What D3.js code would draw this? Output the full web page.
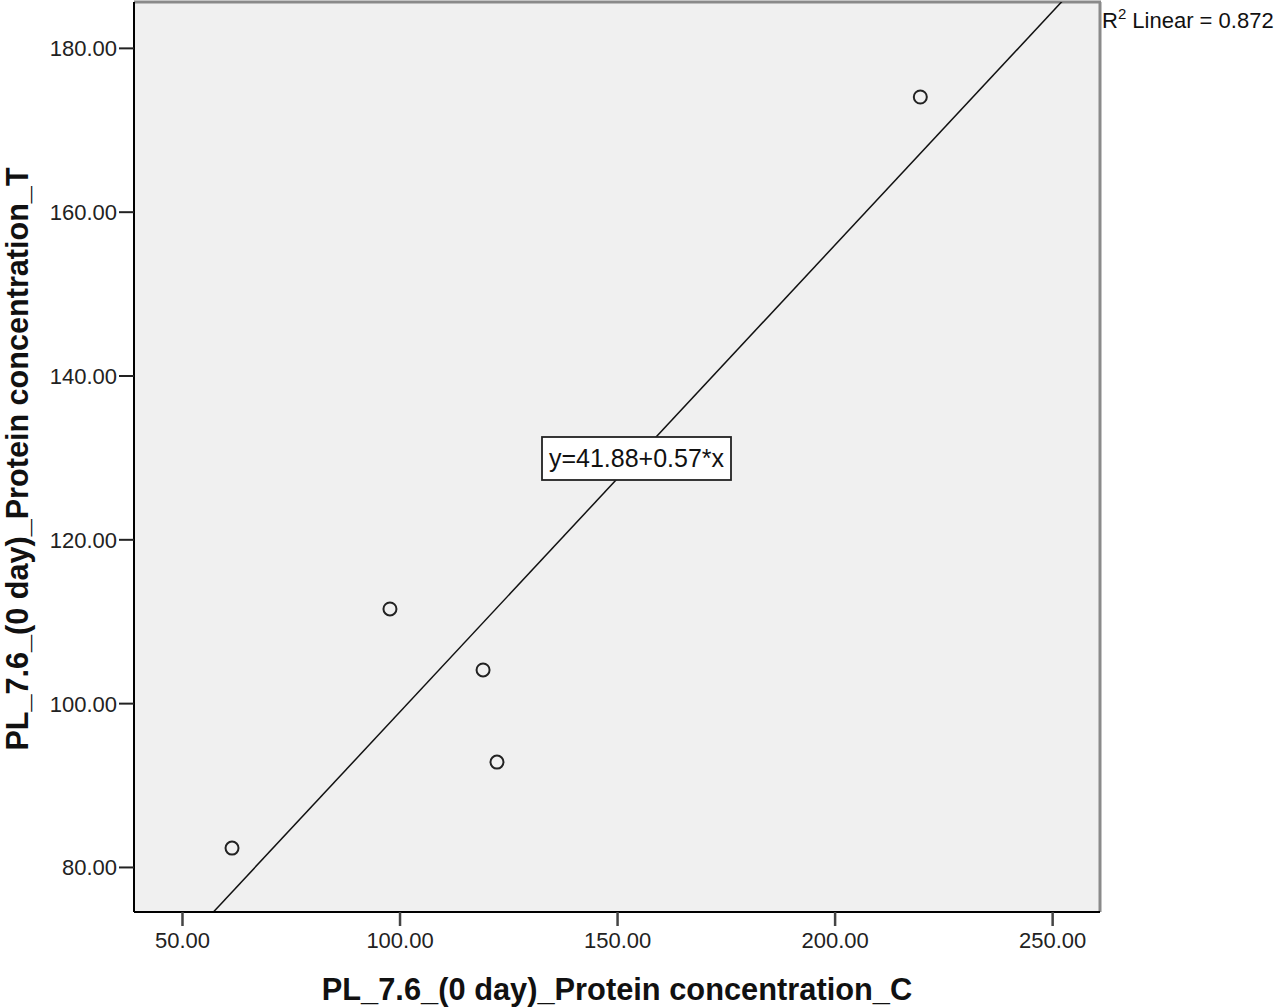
<!DOCTYPE html>
<html><head><meta charset="utf-8">
<script src="https://cdn.jsdelivr.net/npm/d3@7"></script>
<style>body{margin:0;background:#fff;}svg{display:block;}</style>
</head><body>
<svg id="c" width="1280" height="1008"></svg>
<script>
const xValues = [61.5, 97.8, 119.2, 122.4, 219.7];
const yValues = [82.3, 111.5, 104.05, 92.8, 174.0];
const xTicks = [50, 100, 150, 200, 250];
const yTicks = [80, 100, 120, 140, 160, 180];
const intercept = 41.88, slope = 0.57;
const xLabel = "PL_7.6_(0 day)_Protein concentration_C";
const yLabel = "PL_7.6_(0 day)_Protein concentration_T";
const fitLabel = "y=41.88+0.57*x";

const svg = d3.select("#c");
const L = 134, R = 1100, T = 2, B = 912;
const x = d3.scaleLinear().domain([38.97, 261.0]).range([L, R]);
const y = d3.scaleLinear().domain([74.5, 185.6]).range([B, T]);
const font = "Arial, 'Liberation Sans', sans-serif";

svg.append("rect").attr("x", L).attr("y", T).attr("width", R - L).attr("height", B - T)
  .attr("fill", "#f0f0f0");
svg.append("line").attr("x1", L).attr("x2", R + 1).attr("y1", T).attr("y2", T).attr("stroke", "#8a8a8a").attr("stroke-width", 3);
svg.append("line").attr("x1", R).attr("x2", R).attr("y1", T).attr("y2", B).attr("stroke", "#8a8a8a").attr("stroke-width", 3);

const defs = svg.append("defs");
defs.append("clipPath").attr("id", "clip").append("rect").attr("x", L).attr("y", T).attr("width", R - L).attr("height", B - T);

// regression line
svg.append("path").attr("clip-path", "url(#clip)")
  .attr("d", d3.line().x(d => x(d)).y(d => y(intercept + slope * d))([30, 280]))
  .attr("stroke", "#111").attr("stroke-width", 1.5).attr("fill", "none");

// axes
const xAxis = d3.axisBottom(x).tickValues(xTicks).tickFormat(d3.format(".2f")).tickSize(14).tickSizeOuter(0);
const gx = svg.append("g").attr("transform", `translate(0,${B})`).call(xAxis);
gx.select(".domain").attr("stroke", "#000").attr("stroke-width", 2).attr("d", `M${L},0H${R}`);
gx.selectAll(".tick line").attr("stroke", "#444").attr("stroke-width", 2.5);
gx.selectAll(".tick text").attr("font-family", font).attr("font-size", 22).attr("fill", "#222")
  .attr("y", 36).attr("dy", 0);

const yAxis = d3.axisLeft(y).tickValues(yTicks).tickFormat(d3.format(".2f")).tickSize(15).tickSizeOuter(0);
const gy = svg.append("g").attr("transform", `translate(${L},0)`).call(yAxis);
gy.select(".domain").attr("stroke", "#000").attr("stroke-width", 2).attr("d", `M0,${T}V${B}`);
gy.selectAll(".tick line").attr("stroke", "#222").attr("stroke-width", 2);
gy.selectAll(".tick text").attr("font-family", font).attr("font-size", 22).attr("fill", "#222").attr("x", -17).attr("dy", "0.36em");

// points
svg.append("g").selectAll("circle").data(xValues.map((v, i) => [v, yValues[i]])).join("circle")
  .attr("cx", d => x(d[0])).attr("cy", d => y(d[1])).attr("r", 6.5)
  .attr("fill", "none").attr("stroke", "#222").attr("stroke-width", 2);

// fit label box
const bx = 542, by = 437, bw = 189, bh = 43;
svg.append("rect").attr("x", bx).attr("y", by).attr("width", bw).attr("height", bh)
  .attr("fill", "#fff").attr("stroke", "#222").attr("stroke-width", 1.8);
svg.append("text").attr("x", bx + bw / 2).attr("y", 467).attr("text-anchor", "middle")
  .attr("font-family", font).attr("font-size", 25).attr("fill", "#111").text(fitLabel);

// R2 label
const r2 = svg.append("text").attr("x", 1102).attr("y", 28).attr("font-family", font).attr("font-size", 22).attr("fill", "#111");
r2.append("tspan").text("R");
r2.append("tspan").attr("font-size", 15).attr("dy", -9).text("2");
r2.append("tspan").attr("dy", 9).text(" Linear = 0.872");

// axis titles
svg.append("text").attr("x", 617).attr("y", 1000).attr("text-anchor", "middle")
  .attr("font-family", font).attr("font-weight", "bold").attr("font-size", 30.8).attr("fill", "#111").text(xLabel);
svg.append("text").attr("transform", "translate(28,459) rotate(-90)").attr("text-anchor", "middle")
  .attr("font-family", font).attr("font-weight", "bold").attr("font-size", 30.6).attr("fill", "#111").text(yLabel);
</script>
</body></html>
